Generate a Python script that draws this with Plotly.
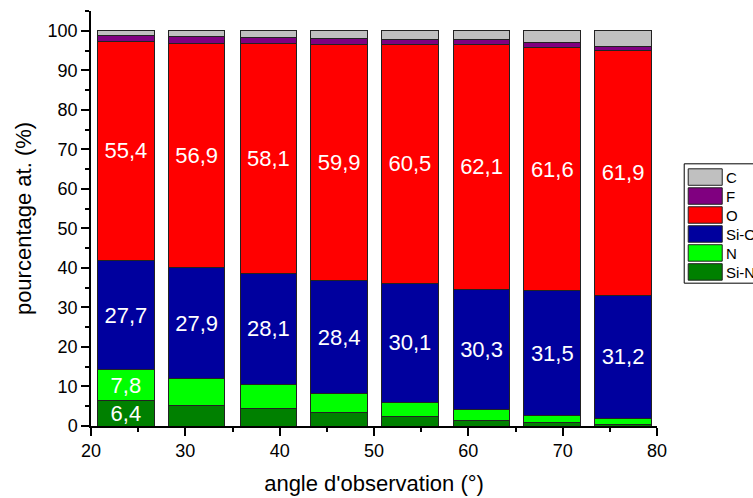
import plotly.graph_objects as go

# Data
angles = [23.7, 31.2, 38.8, 46.3, 53.8, 61.4, 68.9, 76.4]
si_n = [6.4, 5.2, 4.5, 3.3, 2.3, 1.35, 0.8, 0.4]
n = [7.8, 6.9, 6.0, 5.0, 3.7, 2.85, 1.9, 1.5]
si_o = [27.7, 27.9, 28.1, 28.4, 30.1, 30.3, 31.5, 31.2]
o = [55.4, 56.9, 58.1, 59.9, 60.5, 62.1, 61.6, 61.9]
f = [1.4, 1.7, 1.6, 1.55, 1.3, 1.1, 1.3, 1.1]
c = [1.3, 1.4, 1.7, 1.85, 2.1, 2.3, 2.9, 3.9]

si_n_text = ["6,4", "", "", "", "", "", "", ""]
n_text = ["7,8", "", "", "", "", "", "", ""]
si_o_text = ["27,7", "27,9", "28,1", "28,4", "30,1", "30,3", "31,5", "31,2"]
o_text = ["55,4", "56,9", "58,1", "59,9", "60,5", "62,1", "61,6", "61,9"]

series = [
    ("Si-N", si_n, "#008000", si_n_text),
    ("N", n, "#00FF00", n_text),
    ("Si-O", si_o, "#00009E", si_o_text),
    ("O", o, "#FF0000", o_text),
    ("F", f, "#800080", None),
    ("C", c, "#C0C0C0", None),
]

FONT = "Liberation Sans, Arial, sans-serif"

# Figure geometry (body margin removed via post_script)
W, H = 753, 498
ML, MT = 91, 11
PW, PH = 565.8, 415.5
MR = W - ML - PW
MB = H - MT - PH


def px_x(px):
    return (px - ML) / PW


def px_y(py):
    return (MT + PH - py) / PH


fig = go.Figure()
for name, vals, col, txt in series:
    fig.add_trace(go.Bar(
        x=angles, y=vals, name=name, width=6.0,
        marker=dict(color=col, line=dict(color="#222222", width=1)),
        text=txt if txt is not None else None,
        textposition="inside" if txt is not None else "none",
        insidetextanchor="middle",
        textangle=0,
        constraintext="none",
        textfont=dict(color="white", size=22, family=FONT),
        hoverinfo="skip",
        showlegend=False,
    ))

axis_common = dict(
    showline=True, linecolor="black", linewidth=1.5,
    ticks="outside", ticklen=8, tickwidth=1.5, tickcolor="black",
    showgrid=False, zeroline=False,
    tickfont=dict(size=18, color="black", family=FONT),
    minor=dict(ticks="outside", ticklen=4, tickwidth=1.5, tickcolor="black", showgrid=False),
)

# Manual legend (Origin style): box, large swatches, labels
shapes = [dict(type="rect", xref="paper", yref="paper",
               x0=px_x(684), x1=px_x(770), y0=px_y(283.5), y1=px_y(164),
               line=dict(color="black", width=1), fillcolor="white", layer="above")]
annotations = []
legend_order = list(reversed(series))
for i, (name, vals, col, txt) in enumerate(legend_order):
    top = 169 + i * 19
    shapes.append(dict(type="rect", xref="paper", yref="paper",
                       x0=px_x(688), x1=px_x(722), y0=px_y(top + 16.5), y1=px_y(top),
                       line=dict(color="#222222", width=1), fillcolor=col, layer="above"))
    annotations.append(dict(xref="paper", yref="paper", x=px_x(724), y=px_y(top + 8.5),
                            text=name, showarrow=False, xanchor="left", yanchor="middle",
                            font=dict(size=15, family=FONT, color="black")))

fig.update_layout(
    barmode="stack",
    width=W, height=H,
    margin=dict(l=ML, r=MR, t=MT, b=MB, autoexpand=False, pad=0),
    paper_bgcolor="white", plot_bgcolor="white",
    font=dict(family=FONT, color="black"),
    xaxis=dict(range=[20, 80], tick0=20, dtick=10,
               minor_dtick=5,
               title=dict(text="angle d'observation (°)", font=dict(size=22, family=FONT), standoff=15),
               **axis_common),
    yaxis=dict(range=[0, 105], tick0=0, dtick=10,
               minor_dtick=5,
               title=dict(text="pourcentage at. (%)", font=dict(size=22, family=FONT), standoff=10),
               **axis_common),
    shapes=shapes,
    annotations=annotations,
    showlegend=False,
)

fig.write_html(
    "out.html",
    config={"displayModeBar": False},
    post_script="document.body.style.margin='0';document.body.style.overflow='hidden';",
)
